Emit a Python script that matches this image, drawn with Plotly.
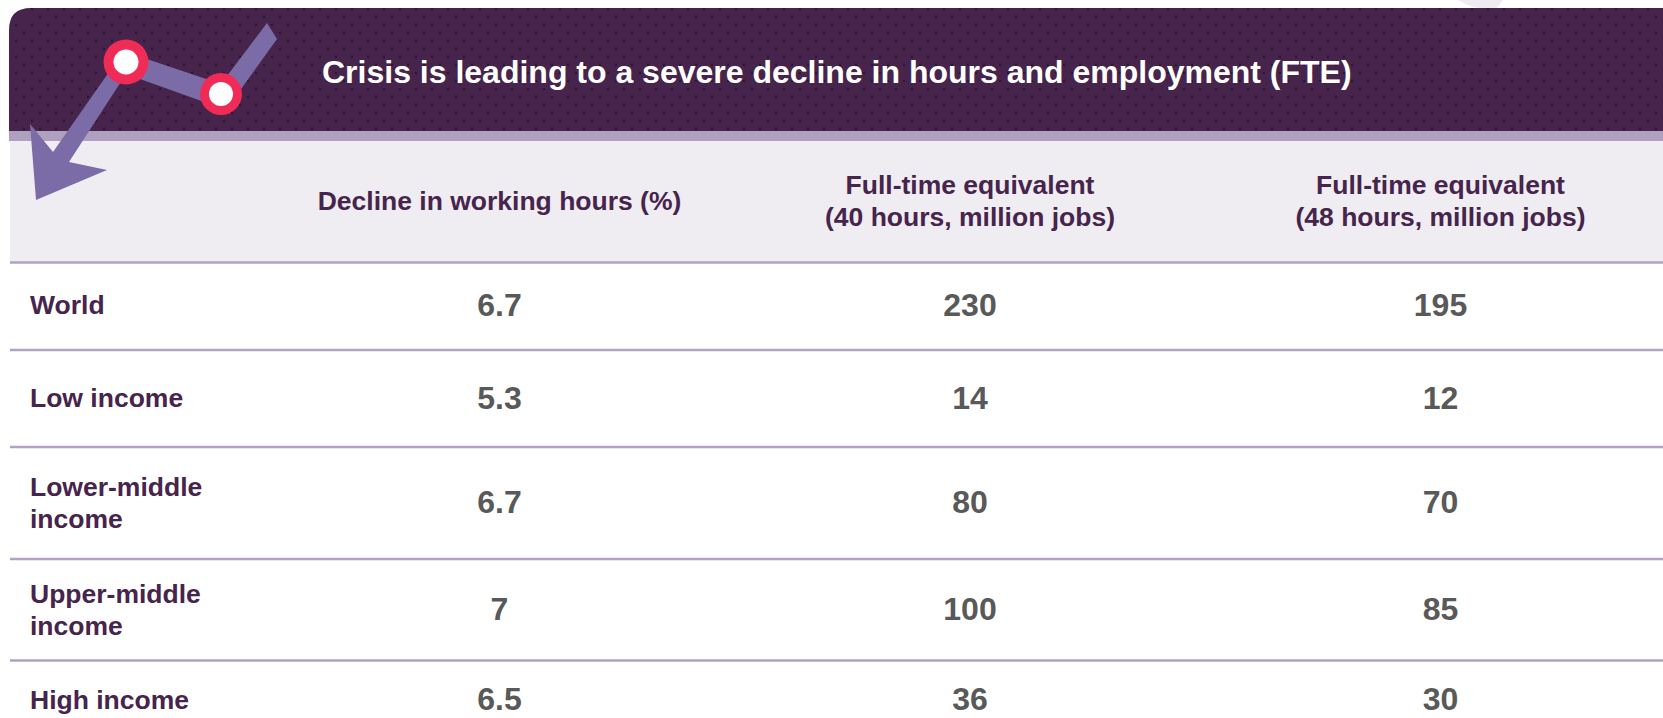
import plotly.graph_objects as go

title = "Crisis is leading to a severe decline in hours and employment (FTE)"
column_heads = ["Decline in working hours (%)",
                "Full-time equivalent<br>(40 hours, million jobs)",
                "Full-time equivalent<br>(48 hours, million jobs)"]
regions = ["World", "Low income", "Lower-middle<br>income", "Upper-middle<br>income", "High income"]
hours_decline = ["6.7", "5.3", "6.7", "7", "6.5"]
fte_40 = ["230", "14", "80", "100", "36"]
fte_48 = ["195", "12", "70", "85", "30"]

W, H = 1663, 718
DARK = "#46244C"
BAND = "#AFA0BF"
LIGHT = "#EFEDF2"
RULE = "#B0A2C2"
GREY = "#595959"
ARROW = "#7B6CA8"
RED = "#F02C56"
DOT = "#2C1733"
FONT = "Liberation Sans, Arial, sans-serif"
LINE_GAP = 32

col_x = [499.5, 970, 1440.5]
row_y = [308, 401, 505, 612, 702]
label_y = [307, 400, 505, 612, 702]
rule_y = [262.5, 350, 447, 559, 660.5]

shapes = [
    dict(type="path", path="M 1458 0 Q 1468 6 1478 8 L 1497 8 L 1503 0 Z", fillcolor="#EDEBF0", line_width=0, layer="below"),
    dict(type="path", path=f"M 9 131 L 9 30 Q 9 8 31 8 L {W} 8 L {W} 131 Z", fillcolor=DARK, line_width=0, layer="below"),
    dict(type="rect", x0=9, x1=W, y0=131, y1=141, fillcolor=BAND, line_width=0, layer="below"),
    dict(type="rect", x0=10, x1=W, y0=141, y1=262, fillcolor=LIGHT, line_width=0, layer="below"),
]
for y in rule_y:
    shapes.append(dict(type="line", x0=10, x1=W, y0=y, y1=y, line=dict(color=RULE, width=2.4), layer="below"))
shapes.append(dict(type="path",
    path="M 267 23 L 277 39 L 231 103 L 221 108 L 126 74 L 69 162 L 107 170 L 36 200 L 30 124 L 53 152 L 116 62 L 126 52 L 221 84 Z",
    fillcolor=ARROW, line_width=0, layer="above"))
for cx, cy, r, h in [(126, 62, 22.5, 12.5), (221, 94, 21, 12)]:
    shapes.append(dict(type="circle", x0=cx-r, x1=cx+r, y0=cy-r, y1=cy+r, fillcolor=RED, line_width=0, layer="above"))
    shapes.append(dict(type="circle", x0=cx-h, x1=cx+h, y0=cy-h, y1=cy+h, fillcolor="white", line_width=0, layer="above"))


def add_text(fig, xs, ys, labels, size, color, position):
    """Draw each label line by line so the line spacing follows LINE_GAP."""
    px, py, pt = [], [], []
    for x, y, label in zip(xs, ys, labels):
        lines = label.split("<br>")
        for i, line in enumerate(lines):
            px.append(x)
            py.append(y + (i - (len(lines) - 1) / 2) * LINE_GAP)
            pt.append(f"<b>{line}</b>")
    fig.add_trace(go.Scatter(x=px, y=py, mode="text", text=pt, textposition=position,
                             textfont=dict(family=FONT, size=size, color=color), hoverinfo="skip"))


fig = go.Figure()
# header texture
dot_x, dot_y = [], []
for r in range(16):
    yy = 9 + 8 * r
    for k in range(104):
        xx = (16 if r % 2 == 0 else 8) + 16 * k
        if 14 < xx < W and not (xx < 30 and yy < 22):
            dot_x.append(xx)
            dot_y.append(yy)
fig.add_trace(go.Scatter(x=dot_x, y=dot_y, mode="markers", hoverinfo="skip",
                         marker=dict(symbol="square", size=2, color=DOT, line_width=0)))
add_text(fig, [322], [75], [title], 32, "white", "middle right")
add_text(fig, col_x, [203, 203, 203], column_heads, 26.5, DARK, "middle center")
add_text(fig, [30] * 5, label_y, regions, 26.5, DARK, "middle right")
for xc, col in zip(col_x, [hours_decline, fte_40, fte_48]):
    add_text(fig, [xc] * 5, row_y, col, 32, GREY, "middle center")

fig.update_layout(width=W, height=H, margin=dict(l=0, r=0, t=0, b=0), showlegend=False,
                  paper_bgcolor="white", plot_bgcolor="white", shapes=shapes,
                  xaxis=dict(range=[0, W], visible=False, fixedrange=True),
                  yaxis=dict(range=[H, 0], visible=False, fixedrange=True))
fig.write_html("out.html", config=dict(displayModeBar=False),
               post_script="document.body.style.margin='0';document.body.style.overflow='hidden';")
